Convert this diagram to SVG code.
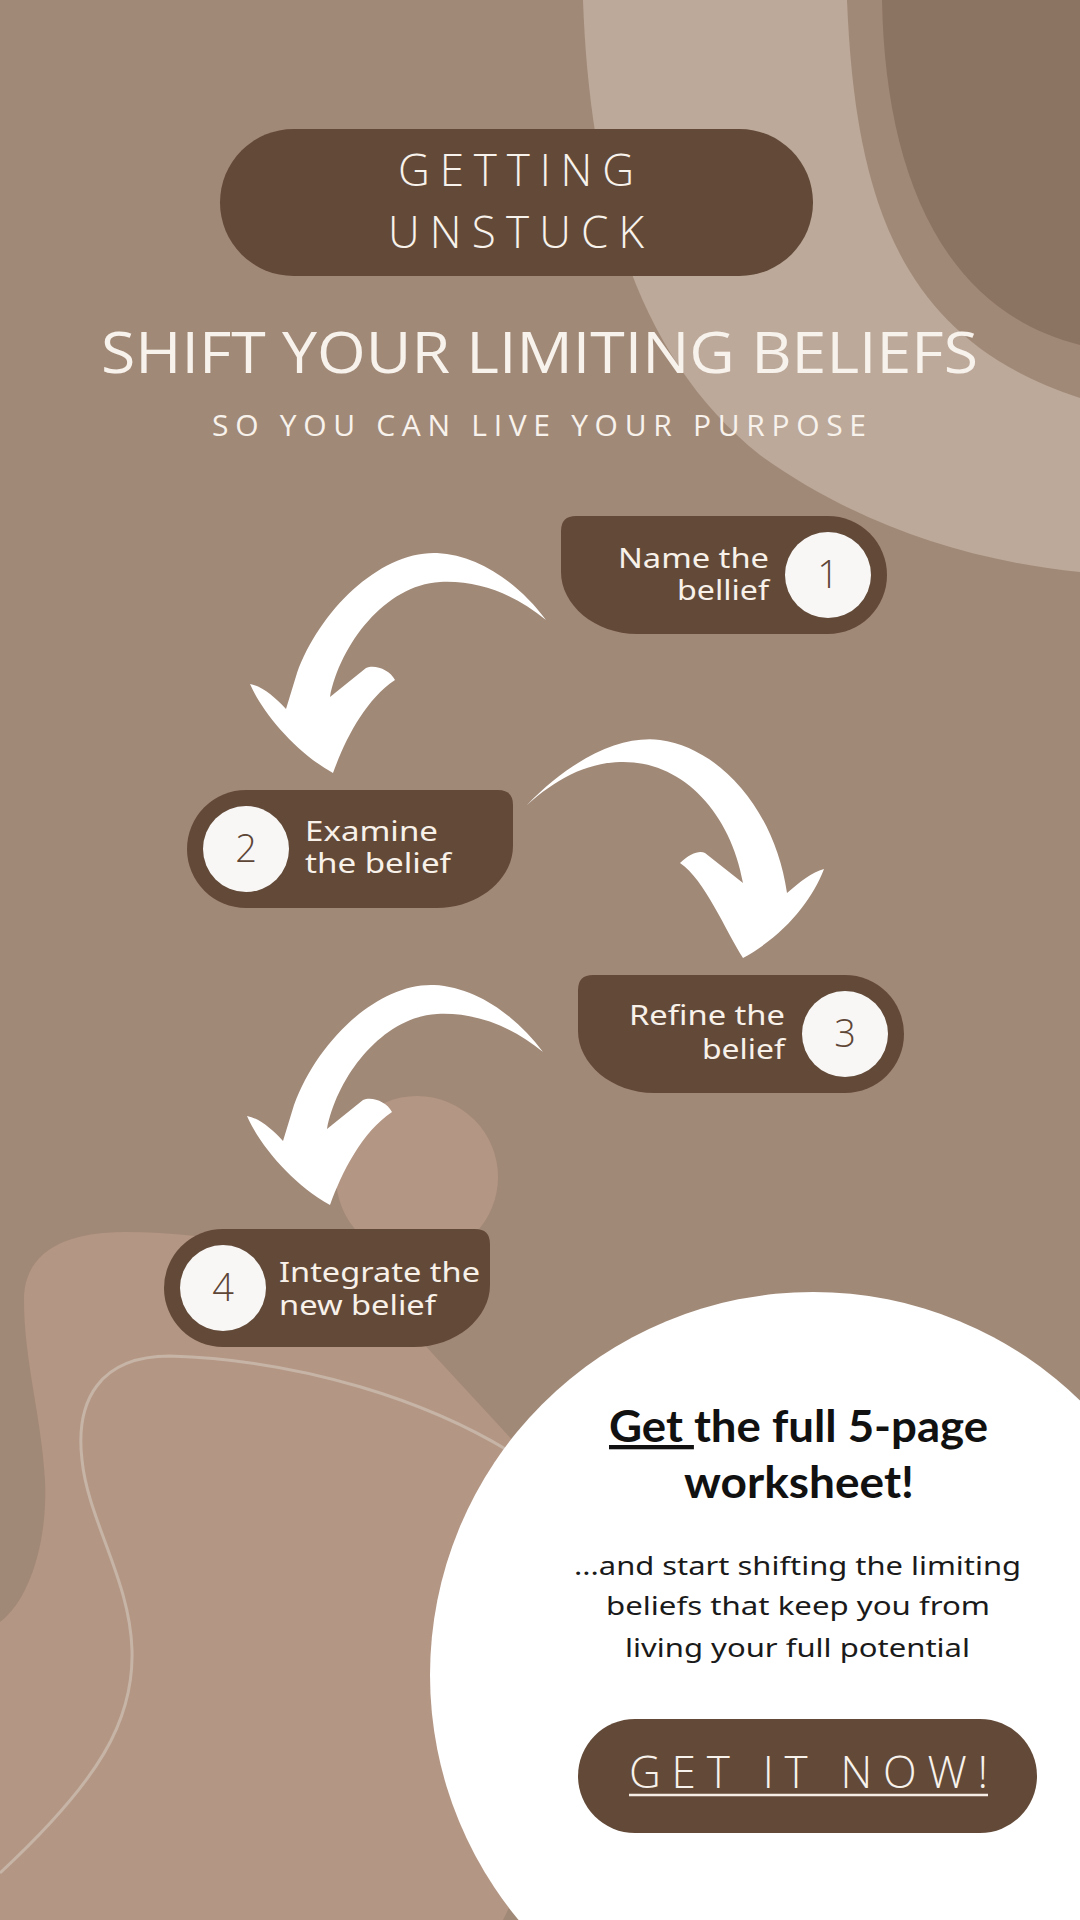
<svg xmlns="http://www.w3.org/2000/svg" width="1080" height="1920" viewBox="0 0 1080 1920">
<style>
.bg{fill:#A18977}
.light{fill:#BCA99A}
.dark{fill:#8C7462}
.blob{fill:#B49684}
.node{fill:#634A38}
.numc{fill:#F8F7F6}
.num{font-family:"Open Sans","Liberation Sans",sans-serif;font-weight:300;font-size:38px;fill:#5E4636;text-anchor:middle}
.lbl{font-family:"Noto Sans","Open Sans",sans-serif;font-size:27px;fill:#F8F1EA}
.arrow{fill:#FFFFFF}
.title{font-family:"Open Sans","Liberation Sans",sans-serif;fill:#F8F2EC}
.thin{font-weight:300}
.reg{font-weight:400}
.cta{font-family:Lato,"Open Sans",sans-serif;font-weight:700;font-size:43px;fill:#111111}
.body{font-family:"Noto Sans","Open Sans",sans-serif;font-size:26px;fill:#1A1A1A}
</style>

<g id="background">
<rect class="bg" x="0" y="0" width="1080" height="1920"/>
<path class="light" d="M 583 0 C 590 200 640 360 760 455 C 850 520 960 560 1080 572 L 1080 0 Z"/>
<path class="bg" d="M 847 0 C 855 200 900 340 1080 398 L 1080 0 Z"/>
<path class="dark" d="M 882 0 C 885 170 940 310 1080 345 L 1080 0 Z"/>
<path class="blob" d="M 0 1622 C 30 1600 48 1540 45 1480 C 42 1420 24 1360 24 1300 C 24 1255 60 1232 125 1232 C 250 1232 360 1270 420 1340 L 540 1470 C 580 1560 565 1800 503 1920 L 0 1920 Z"/>
<circle class="blob" cx="417" cy="1177" r="81"/>
<path d="M 520 1458 C 430 1400 300 1360 170 1356 C 100 1356 75 1400 82 1460 C 88 1520 130 1580 132 1650 C 134 1720 100 1780 0 1873" fill="none" stroke="#C6B4A6" stroke-width="3"/>
<circle cx="813" cy="1675" r="383" fill="#FFFFFF"/>
</g>

<g id="header">
<rect x="220" y="129" width="593" height="147" rx="73.5" fill="#634A38"/>
<text class="title thin" x="398" y="186" font-size="44" textLength="236">GETTING</text>
<text class="title thin" x="388" y="248" font-size="44" textLength="256">UNSTUCK</text>
<text class="title reg" x="101" y="373" font-size="57" textLength="877" lengthAdjust="spacingAndGlyphs">SHIFT YOUR LIMITING BELIEFS</text>
<text class="title reg" x="212" y="436" font-size="30" textLength="654">SO YOU CAN LIVE YOUR PURPOSE</text>
</g>

<g id="connectors">
<path class="arrow" d="M 546 620 C 520 585 480 555 437 553 C 380 551 320 610 297 673 L 286 709 C 275 697 262 686 250 684 C 262 712 295 752 333 773 C 345 740 365 700 395 680 C 390 670 375 664 366 668 L 330 697 C 340 645 385 585 440 582 C 480 580 515 595 546 620 Z"/>
<path class="arrow" d="M 527 805 C 570 760 620 735 660 740 C 720 748 775 810 787 893 C 800 882 812 872 824 869 C 812 900 785 935 743 958 C 725 930 705 880 680 863 C 690 853 700 850 705 853 L 743 883 C 730 810 680 760 620 762 C 585 763 555 780 527 805 Z"/>
<path class="arrow" transform="translate(-3,432)" d="M 546 620 C 520 585 480 555 437 553 C 380 551 320 610 297 673 L 286 709 C 275 697 262 686 250 684 C 262 712 295 752 333 773 C 345 740 365 700 395 680 C 390 670 375 664 366 668 L 330 697 C 340 645 385 585 440 582 C 480 580 515 595 546 620 Z"/>
</g>

<g id="node1">
<path class="node" d="M 576 516 H 828 A 59 59 0 0 1 828 634 H 637 C 595 634 561 605 561 572 V 531 Q 561 516 576 516 Z"/>
<circle class="numc" cx="828" cy="575" r="43"/>
<text class="num" x="828" y="588">1</text>
<text class="lbl" x="618" y="568" textLength="151" lengthAdjust="spacingAndGlyphs">Name the</text>
<text class="lbl" x="677" y="600" textLength="92" lengthAdjust="spacingAndGlyphs">bellief</text>
</g>

<g id="node2">
<path class="node" d="M 246 790 H 498 Q 513 790 513 805 V 846 C 513 879 479 908 437 908 H 246 A 59 59 0 0 1 246 790 Z"/>
<circle class="numc" cx="246" cy="849" r="43"/>
<text class="num" x="246" y="862">2</text>
<text class="lbl" x="305" y="841" textLength="133" lengthAdjust="spacingAndGlyphs">Examine</text>
<text class="lbl" x="305" y="873" textLength="146" lengthAdjust="spacingAndGlyphs">the belief</text>
</g>

<g id="node3">
<path class="node" d="M 593 975 H 845 A 59 59 0 0 1 845 1093 H 654 C 612 1093 578 1064 578 1031 V 990 Q 578 975 593 975 Z"/>
<circle class="numc" cx="845" cy="1034" r="43"/>
<text class="num" x="845" y="1047">3</text>
<text class="lbl" x="629" y="1025" textLength="156" lengthAdjust="spacingAndGlyphs">Refine the</text>
<text class="lbl" x="702" y="1059" textLength="83" lengthAdjust="spacingAndGlyphs">belief</text>
</g>

<g id="node4">
<path class="node" d="M 223 1229 H 475 Q 490 1229 490 1244 V 1285 C 490 1318 456 1347 414 1347 H 223 A 59 59 0 0 1 223 1229 Z"/>
<circle class="numc" cx="223" cy="1288" r="43"/>
<text class="num" x="223" y="1301">4</text>
<text class="lbl" x="279" y="1282" textLength="201" lengthAdjust="spacingAndGlyphs">Integrate the</text>
<text class="lbl" x="279" y="1315" textLength="157" lengthAdjust="spacingAndGlyphs">new belief</text>
</g>

<g id="cta">
<text class="cta" x="609" y="1442" textLength="379" lengthAdjust="spacingAndGlyphs"><tspan text-decoration="underline">Get </tspan>the full 5-page</text>
<text class="cta" x="684" y="1498" textLength="230" lengthAdjust="spacingAndGlyphs">worksheet!</text>
<text class="body" x="574" y="1575" textLength="447" lengthAdjust="spacingAndGlyphs">...and start shifting the limiting</text>
<text class="body" x="606" y="1615" textLength="384" lengthAdjust="spacingAndGlyphs">beliefs that keep you from</text>
<text class="body" x="625" y="1657" textLength="345" lengthAdjust="spacingAndGlyphs">living your full potential</text>
<g id="button">
<rect x="578" y="1719" width="459" height="114" rx="57" fill="#634A38"/>
<text class="title thin" x="629" y="1788" font-size="44" textLength="359" fill="#F6EEE6">GET IT NOW!</text>
<line x1="629" y1="1795" x2="988" y2="1795" stroke="#F6EEE6" stroke-width="2.5"/>
</g>
</g>
</svg>
